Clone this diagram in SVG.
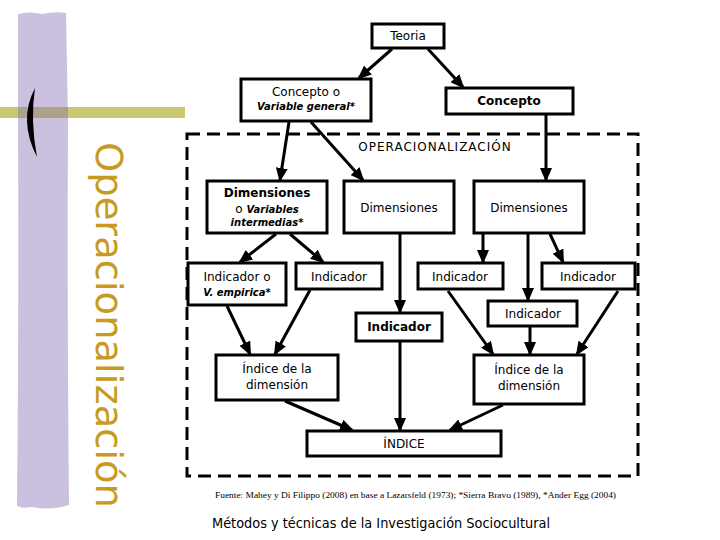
<svg xmlns="http://www.w3.org/2000/svg" width="720" height="540" viewBox="0 0 720 540">
<defs>
<marker id="ah" viewBox="0 0 14 12" refX="12" refY="6" markerWidth="14" markerHeight="12" markerUnits="userSpaceOnUse" orient="auto">
<path d="M0,0 L14,6 L0,12 z" fill="#000"/>
</marker>
</defs>
<style>
.box{fill:#fff;stroke:#000;stroke-width:3}
.t{font-family:"DejaVu Sans",Verdana,sans-serif;font-size:12px;text-anchor:middle;fill:#000}
.b{font-weight:bold}
.i{font-style:italic;font-weight:bold;font-size:10px}
.c line{stroke:#000;stroke-width:3;marker-end:url(#ah)}
</style>
<rect width="720" height="540" fill="#fff"/>
<g id="decor">
<path d="M18,14 Q30,11 42,14 Q55,11 66,13 L68,120 Q67,300 69,505 Q50,511 32,507 Q22,509 17,506 Q19,300 18,120 Z" fill="#cbc0de"/>
<rect x="0" y="107" width="185" height="11" fill="#c9c870"/>
<rect x="18" y="107" width="50" height="11" fill="#aca28b"/>
<path d="M35,88 Q18,120 37,157 Q30,120 35,88 Z" fill="#000"/>
<text transform="translate(96,142) rotate(90)" font-family="'DejaVu Sans',sans-serif" font-size="38" fill="#c79a22" textLength="366" lengthAdjust="spacingAndGlyphs">Operacionalización</text>
</g>
<rect id="operacionalizacion" x="187" y="134" width="451" height="342" fill="none" stroke="#000" stroke-width="3" stroke-dasharray="13 7"/>
<text class="t" x="435" y="151" font-size="11" letter-spacing="1">OPERACIONALIZACIÓN</text>
<g class="c" id="connectors">
<line x1="392" y1="49" x2="359" y2="78"/>
<line x1="428" y1="49" x2="463" y2="87"/>
<line x1="289" y1="122" x2="280" y2="180"/>
<line x1="311" y1="122" x2="363" y2="180"/>
<line x1="546" y1="114" x2="546" y2="180"/>
<line x1="276" y1="234" x2="240" y2="262"/>
<line x1="290" y1="234" x2="323" y2="262"/>
<line x1="400" y1="234" x2="400" y2="312"/>
<line x1="483" y1="234" x2="483" y2="262"/>
<line x1="528" y1="234" x2="528" y2="300"/>
<line x1="550" y1="234" x2="563" y2="262"/>
<line x1="227" y1="306" x2="250" y2="354"/>
<line x1="310" y1="290" x2="275" y2="354"/>
<line x1="448" y1="291" x2="493" y2="354"/>
<line x1="530" y1="327" x2="530" y2="354"/>
<line x1="618" y1="291" x2="577" y2="354"/>
<line x1="400" y1="342" x2="400" y2="430"/>
<line x1="285" y1="401" x2="352" y2="430"/>
<line x1="503" y1="405" x2="450" y2="430"/>
</g>
<g id="teoria"><rect class="box" x="372" y="24" width="72" height="24"/><text class="t" x="408" y="40">Teoria</text></g>
<g id="concepto-variable"><rect class="box" x="241" y="79" width="130" height="42"/><text class="t" x="306" y="96">Concepto o</text><text class="t i" x="306" y="110">Variable general*</text></g>
<g id="concepto"><rect class="box" x="446" y="88" width="127" height="26"/><text class="t b" x="509" y="105">Concepto</text></g>
<g id="dim1"><rect class="box" x="207" y="181" width="120" height="52"/><text class="t b" x="267" y="197">Dimensiones</text><text class="t" x="267" y="213" font-size="10">o <tspan class="i">Variables</tspan></text><text class="t i" x="267" y="226">intermedias*</text></g>
<g id="dim2"><rect class="box" x="344" y="181" width="110" height="52"/><text class="t" x="399" y="212">Dimensiones</text></g>
<g id="dim3"><rect class="box" x="474" y="181" width="110" height="52"/><text class="t" x="529" y="212">Dimensiones</text></g>
<g id="ind1"><rect class="box" x="188" y="263" width="98" height="42"/><text class="t" x="237" y="281">Indicador o</text><text class="t i" x="237" y="296">V. empirica*</text></g>
<g id="ind2"><rect class="box" x="296" y="263" width="86" height="26"/><text class="t" x="339" y="281">Indicador</text></g>
<g id="ind3"><rect class="box" x="418" y="263" width="85" height="26"/><text class="t" x="460" y="281">Indicador</text></g>
<g id="ind4"><rect class="box" x="542" y="263" width="93" height="26"/><text class="t" x="588" y="281">Indicador</text></g>
<g id="ind5"><rect class="box" x="356" y="313" width="86" height="28"/><text class="t b" x="399" y="331">Indicador</text></g>
<g id="ind6"><rect class="box" x="488" y="301" width="89" height="25"/><text class="t" x="533" y="318">Indicador</text></g>
<g id="indice-l"><rect class="box" x="216" y="355" width="122" height="45"/><text class="t" x="277" y="373">Índice de la</text><text class="t" x="277" y="389">dimensión</text></g>
<g id="indice-r"><rect class="box" x="474" y="355" width="110" height="49"/><text class="t" x="529" y="374">Índice de la</text><text class="t" x="529" y="390">dimensión</text></g>
<g id="indice"><rect class="box" x="307" y="431" width="194" height="25"/><text class="t" x="404" y="448">ÍNDICE</text></g>
<text x="215" y="498" font-family="'Liberation Serif',serif" font-size="9" textLength="401" lengthAdjust="spacingAndGlyphs">Fuente: Mahey y Di Filippo (2008) en base a Lazarsfeld (1973); *Sierra Bravo (1989), *Ander Egg (2004)</text>
<text x="212" y="528" font-family="'DejaVu Sans',sans-serif" font-size="14" fill="#000" textLength="338" lengthAdjust="spacingAndGlyphs">Métodos y técnicas de la Investigación Sociocultural</text>
</svg>
